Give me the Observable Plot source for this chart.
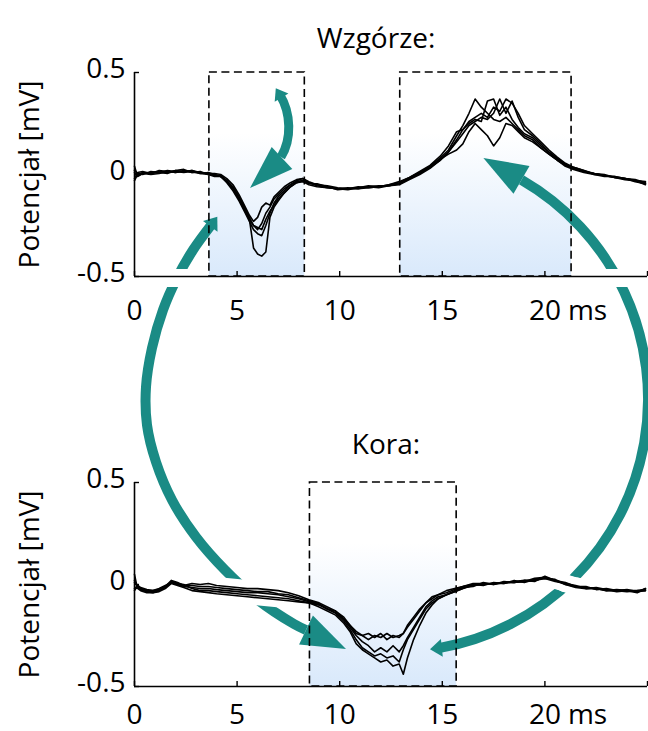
<!DOCTYPE html>
<html><head><meta charset="utf-8">
<script src="https://cdn.jsdelivr.net/npm/d3@7"></script>
<script src="https://cdn.jsdelivr.net/npm/@observablehq/plot@0.6"></script>
<style>
html,body{margin:0;padding:0;background:#fff;}
#chart{width:648px;}
#chart svg{display:block;overflow:hidden;}
</style></head><body><div id="chart"></div>
<script>
// ---------- data ----------
const titles = ["Wzgórze:", "Kora:"];
const yLabel = "Potencjał [mV]";
const xTicks = [0, 5, 10, 15, 20, 25];
const xTickLabels = ["0", "5", "10", "15", "20", ""];
const xUnit = "ms";
const yTicks = [-0.5, 0, 0.5];
const yTickLabels = ["-0.5", "0", "0.5"];

// Wzgórze (thalamus) time grid [ms] and 5 traces [mV]
const tTop = [0,0.15,0.4,0.8,1.2,1.6,2.0,2.4,2.8,3.2,3.6,3.9,4.2,4.5,4.8,5.1,5.4,5.6,5.8,6.0,6.2,6.4,6.6,6.8,7.0,7.3,7.6,7.9,8.2,8.5,8.9,9.4,9.9,10.4,10.9,11.4,11.9,12.4,12.9,13.4,13.9,14.4,14.9,15.3,15.7,16.0,16.3,16.6,16.9,17.2,17.5,17.8,18.1,18.4,18.7,19.0,19.4,19.8,20.2,20.6,21.0,21.4,21.9,22.4,22.9,23.4,23.9,24.4,24.9];
const topA = [0.04,-0.01,0.005,0.01,0.015,0.01,0.02,0.015,0.02,0.01,0.005,0.0,
 -0.01,-0.03,-0.07,-0.12,-0.18,-0.22,-0.36,-0.39,-0.40,-0.38,-0.21,-0.16,-0.13,-0.09,-0.06,-0.04,-0.03,-0.04,
 -0.05,-0.06,-0.07,-0.075,-0.065,-0.06,-0.065,-0.055,-0.045,-0.02,0.01,0.04,0.08,0.12,0.19,
 0.24,0.30,0.37,0.33,0.30,0.27,0.26,0.28,0.25,0.22,0.19,
 0.17,0.13,0.10,0.07,0.045,0.03,0.015,0.005,-0.005,-0.01,-0.02,-0.03,-0.045];
const topB = [-0.03,0.0,0.01,0.005,0.02,0.015,0.01,0.02,0.01,0.015,0.0,-0.005,
 -0.005,-0.03,-0.06,-0.11,-0.17,-0.21,-0.25,-0.27,-0.24,-0.19,-0.16,-0.12,-0.10,-0.07,-0.05,-0.03,-0.02,-0.04,
 -0.055,-0.065,-0.07,-0.07,-0.06,-0.065,-0.06,-0.05,-0.04,-0.015,0.015,0.045,0.09,0.14,0.21,
 0.22,0.25,0.27,0.26,0.36,0.37,0.29,0.33,0.27,0.23,0.20,
 0.18,0.14,0.11,0.075,0.05,0.035,0.02,0.0,-0.005,-0.015,-0.02,-0.025,-0.04];
const topC = [0.02,0.005,0.0,0.015,0.01,0.02,0.015,0.01,0.015,0.005,0.01,0.0,
 -0.01,-0.04,-0.08,-0.13,-0.19,-0.23,-0.27,-0.29,-0.30,-0.25,-0.19,-0.14,-0.11,-0.08,-0.05,-0.035,-0.03,-0.045,
 -0.045,-0.06,-0.075,-0.07,-0.07,-0.06,-0.055,-0.055,-0.045,-0.02,0.005,0.035,0.07,0.11,0.16,
 0.20,0.24,0.26,0.28,0.27,0.30,0.37,0.30,0.36,0.28,0.22,
 0.19,0.15,0.11,0.08,0.05,0.03,0.015,0.005,0.0,-0.015,-0.025,-0.03,-0.05];
const topD = [-0.02,0.01,0.015,0.005,0.01,0.005,0.02,0.025,0.01,0.01,0.005,0.005,
 0.0,-0.02,-0.05,-0.10,-0.16,-0.20,-0.23,-0.21,-0.16,-0.14,-0.15,-0.11,-0.09,-0.06,-0.04,-0.025,-0.02,-0.035,
 -0.05,-0.055,-0.065,-0.07,-0.065,-0.055,-0.06,-0.05,-0.035,-0.015,0.01,0.04,0.075,0.10,0.12,
 0.15,0.21,0.25,0.22,0.19,0.14,0.18,0.25,0.24,0.21,0.18,
 0.16,0.13,0.10,0.07,0.04,0.025,0.01,0.0,-0.01,-0.01,-0.02,-0.03,-0.035];
const topE = [0.01,-0.005,0.005,0.0,0.005,0.015,0.01,0.015,0.02,0.005,0.0,-0.01,
 -0.01,-0.035,-0.07,-0.12,-0.18,-0.22,-0.25,-0.26,-0.27,-0.22,-0.18,-0.15,-0.12,-0.09,-0.06,-0.04,-0.035,-0.05,
 -0.06,-0.065,-0.07,-0.065,-0.07,-0.065,-0.06,-0.055,-0.05,-0.025,0.0,0.03,0.07,0.11,0.17,
 0.22,0.26,0.28,0.30,0.28,0.33,0.31,0.37,0.35,0.30,0.24,
 0.20,0.16,0.12,0.085,0.055,0.035,0.02,0.005,-0.005,-0.015,-0.02,-0.035,-0.045];
const topBoxX1 = [3.65, 12.95];
const topBoxX2 = [8.3, 21.3];

// Kora (cortex) time grid [ms] and 5 traces [mV]
const tBot = [0,0.1,0.3,0.6,0.9,1.2,1.5,1.8,2.1,2.4,2.8,3.2,3.6,4.0,4.5,5.0,5.5,6.0,6.5,7.0,7.5,8.0,8.5,9.0,9.4,9.8,10.2,10.5,10.8,11.1,11.4,11.7,12.0,12.3,12.6,12.9,13.1,13.3,13.6,13.9,14.2,14.5,14.8,15.2,15.6,16.0,16.5,17.0,17.5,18.0,18.5,19.0,19.5,20.0,20.5,21.0,21.5,22.0,22.5,23.0,23.5,24.0,24.5,24.9];
const botA = [0.05,0.0,-0.02,-0.03,-0.03,-0.025,-0.01,0.015,0.005,-0.005,
 0.005,0.0,0.005,-0.005,-0.01,-0.015,-0.02,-0.02,-0.025,-0.03,-0.04,-0.055,-0.075,-0.09,
 -0.11,-0.13,-0.16,-0.20,-0.24,-0.25,-0.27,-0.25,-0.26,-0.24,-0.26,-0.25,-0.24,-0.21,-0.17,-0.13,-0.09,-0.07,-0.05,-0.04,-0.025,-0.01,
 0.0,0.005,0.0,0.01,0.01,0.015,0.02,0.035,0.02,0.0,-0.01,-0.015,-0.02,-0.03,-0.03,-0.025,-0.035,-0.02];
const botB = [-0.02,-0.01,-0.025,-0.035,-0.04,-0.03,-0.015,0.01,0.0,-0.01,
 -0.015,-0.02,-0.02,-0.025,-0.03,-0.035,-0.04,-0.04,-0.045,-0.05,-0.06,-0.07,-0.085,-0.10,
 -0.12,-0.14,-0.18,-0.22,-0.27,-0.31,-0.33,-0.35,-0.34,-0.36,-0.35,-0.38,-0.32,-0.27,-0.22,-0.17,-0.12,-0.09,-0.07,-0.05,-0.035,-0.02,
 -0.005,0.0,0.005,0.005,0.02,0.01,0.025,0.03,0.015,0.005,-0.005,-0.02,-0.015,-0.025,-0.035,-0.03,-0.03,-0.03];
const botC = [0.02,-0.005,-0.02,-0.03,-0.035,-0.03,-0.01,0.02,0.01,-0.005,
 -0.005,-0.01,-0.01,-0.015,-0.02,-0.025,-0.03,-0.035,-0.035,-0.045,-0.05,-0.065,-0.08,-0.095,
 -0.12,-0.13,-0.17,-0.21,-0.25,-0.28,-0.30,-0.33,-0.31,-0.33,-0.30,-0.33,-0.30,-0.26,-0.21,-0.16,-0.11,-0.08,-0.06,-0.05,-0.03,-0.015,
 -0.01,0.01,0.0,0.015,0.01,0.02,0.015,0.04,0.02,0.01,-0.01,-0.01,-0.025,-0.02,-0.03,-0.035,-0.03,-0.025];
const botD = [-0.03,-0.015,-0.03,-0.04,-0.04,-0.035,-0.02,0.005,-0.005,-0.015,
 -0.03,-0.035,-0.04,-0.045,-0.05,-0.055,-0.06,-0.065,-0.07,-0.075,-0.08,-0.085,-0.09,-0.11,
 -0.13,-0.15,-0.19,-0.23,-0.29,-0.32,-0.34,-0.36,-0.38,-0.37,-0.40,-0.39,-0.44,-0.36,-0.27,-0.20,-0.14,-0.10,-0.07,-0.05,-0.035,-0.02,
 0.0,-0.005,0.01,0.005,0.015,0.02,0.02,0.03,0.025,0.0,-0.015,-0.02,-0.02,-0.03,-0.025,-0.03,-0.035,-0.03];
const botE = [0.01,0.0,-0.015,-0.025,-0.03,-0.02,-0.005,0.01,0.005,0.0,
 -0.02,-0.03,-0.03,-0.035,-0.04,-0.045,-0.05,-0.055,-0.06,-0.065,-0.07,-0.08,-0.09,-0.10,
 -0.12,-0.14,-0.17,-0.20,-0.23,-0.25,-0.24,-0.26,-0.24,-0.27,-0.25,-0.26,-0.24,-0.20,-0.16,-0.12,-0.09,-0.06,-0.05,-0.03,-0.02,-0.01,
 0.005,0.005,0.005,0.01,0.01,0.015,0.03,0.035,0.02,0.005,-0.01,-0.015,-0.02,-0.025,-0.03,-0.03,-0.04,-0.02];
const botBoxX1 = [8.55];
const botBoxX2 = [15.7];

// ---------- decoration (teal arrows, page pixel geometry) ----------
const TEAL = "#1a8b85";
const FONT = "'Open Sans', sans-serif";
const FS = 28;
const leftArcPts = [[212,224],[193,250],[177,278],[163,310],[152,348],[146,387],[147,425],[156,462],[172,500],[196,537],[225,570],[258,600],[294,624],[306,630]];

const NS = "http://www.w3.org/2000/svg";
function el(name, attrs) {
  const e = document.createElementNS(NS, name);
  for (const k in attrs) e.setAttribute(k, attrs[k]);
  return e;
}
function headPoly(base, tip, half) {
  const dx = tip[0]-base[0], dy = tip[1]-base[1], L = Math.hypot(dx, dy);
  const nx = -dy/L, ny = dx/L;
  return [[base[0]+nx*half, base[1]+ny*half], tip, [base[0]-nx*half, base[1]-ny*half]];
}
function flarePoly(tail, next, len, half) {
  const dx = tail[0]-next[0], dy = tail[1]-next[1], L = Math.hypot(dx, dy);
  const ux = dx/L, uy = dy/L, nx = -uy, ny = ux;
  const b = [tail[0]-ux*3, tail[1]-uy*3];
  return [[b[0]+nx*half, b[1]+ny*half], [tail[0]+ux*len, tail[1]+uy*len], [b[0]-nx*half, b[1]-ny*half]];
}
const poly = pts => "M" + pts.map(p => p[0].toFixed(1)+","+p[1].toFixed(1)).join("L") + "Z";

function arrowLayer(offsetY, maskId, lines) {
  return (index, scales, values, dims) => {
    const {x, y} = scales;
    const root = el("g", {});
    const defs = el("defs", {});
    const mask = el("mask", {id: maskId, maskUnits: "userSpaceOnUse", x: 0, y: 0, width: dims.width, height: dims.height});
    mask.appendChild(el("rect", {x: 0, y: 0, width: dims.width, height: dims.height, fill: "white"}));
    mask.appendChild(el("rect", {x: 0, y: 269 - offsetY, width: dims.width, height: 18, fill: "black"}));
    const ln = d3.line().x(d => x(d[0])).y(d => y(d[1]));
    for (const l of lines) mask.appendChild(el("path", {d: ln(l), fill: "none", stroke: "black", "stroke-width": 16, "stroke-linejoin": "round"}));
    defs.appendChild(mask);
    root.appendChild(defs);
    const masked = el("g", {mask: `url(#${maskId})`});
    const g = el("g", {transform: `translate(0,${-offsetY})`});
    // left big arc (top-left -> Kora trough)
    g.appendChild(el("path", {d: d3.line().curve(d3.curveCatmullRom)(leftArcPts), fill: "none", stroke: TEAL, "stroke-width": 10}));
    g.appendChild(el("path", {d: poly(headPoly([306,630], [346,649], 16)), fill: TEAL}));
    g.appendChild(el("path", {d: poly(flarePoly([212,224], [193,250], 9, 9)), fill: TEAL}));
    // right big arc (Kora trough -> Wzgórze peak)
    g.appendChild(el("path", {d: "M438.9,648.2 A253,253 0 0 0 521.5,179.9", fill: "none", stroke: TEAL, "stroke-width": 10}));
    g.appendChild(el("path", {d: poly(headPoly([521.5,179.9], [483.4,157.9], 16)), fill: TEAL}));
    g.appendChild(el("path", {d: poly(flarePoly([438.9,648.2], [450,647], 9, 9)), fill: TEAL}));
    // small arrow in the thalamus panel
    g.appendChild(el("path", {d: "M280,95 C291,113 292,139 281,157", fill: "none", stroke: TEAL, "stroke-width": 9}));
    g.appendChild(el("path", {d: poly(headPoly([282,158], [250,188], 15)), fill: TEAL}));
    g.appendChild(el("path", {d: poly(flarePoly([280,95], [291,113], 8, 8)), fill: TEAL}));
    masked.appendChild(g);
    root.appendChild(masked);
    return root;
  };
}
function gradDefs(id) {
  return () => {
    const defs = el("defs", {});
    const lg = el("linearGradient", {id, x1: 0, y1: 0, x2: 0, y2: 1});
    lg.appendChild(el("stop", {offset: "0", "stop-color": "#ffffff"}));
    lg.appendChild(el("stop", {offset: "0.3", "stop-color": "#ffffff"}));
    lg.appendChild(el("stop", {offset: "1", "stop-color": "#d9e9fb"}));
    defs.appendChild(lg);
    return defs;
  };
}

function panel(o) {
  const series = o.series;
  const rows = series.flatMap((vals, k) => vals.map((v, i) => ({t: o.t[i], v, id: k})));
  const lines = series.map(vals => vals.map((v, i) => [o.t[i], v]));
  const boxes = o.x1.map((a, i) => ({x1: a, x2: o.x2[i]}));
  return Plot.plot({
    width: 648, height: o.height,
    marginTop: o.marginTop, marginBottom: o.marginBottom, marginLeft: 134, marginRight: 1,
    x: {domain: [0, 25], label: null},
    y: {domain: [-0.5, 0.5], label: null},
    style: `overflow:hidden;font-family:${FONT};background:white;color:black;`,
    marks: [
      gradDefs(o.gradId),
      Plot.rect(boxes, {x1: "x1", x2: "x2", y1: -0.5, y2: 0.5, fill: `url(#${o.gradId})`}),
      arrowLayer(o.offsetY, o.maskId, lines),
      Plot.rect(boxes, {x1: "x1", x2: "x2", y1: -0.5, y2: 0.5, fill: "none", stroke: "black", strokeWidth: 1.6, strokeDasharray: "8,4.5"}),
      Plot.ruleY([-0.5], {stroke: "black", strokeWidth: 1.6}),
      Plot.ruleX([0], {stroke: "black", strokeWidth: 1.6}),
      Plot.axisX({ticks: xTicks, tickSize: -5, tickFormat: () => "", strokeWidth: 1.4, label: null}),
      Plot.axisX({ticks: xTicks, tickSize: 0, tickPadding: o.xPad, tickFormat: d => xTickLabels[xTicks.indexOf(d)], fontSize: FS, fontFamily: FONT, label: null}),
      Plot.text([xUnit], {text: d => d, x: 20, frameAnchor: "bottom", textAnchor: "start", lineAnchor: "top", dx: 23, dy: o.xPad, fontSize: FS, fontFamily: FONT}),
      Plot.axisY({ticks: yTicks, tickSize: -5, tickFormat: () => "", strokeWidth: 1.4, label: null}),
      Plot.axisY({ticks: yTicks, tickSize: 0, tickPadding: 9, dy: -3, tickFormat: d => yTickLabels[yTicks.indexOf(d)], fontSize: FS, fontFamily: FONT, label: null}),
      Plot.line(rows, {x: "t", y: "v", z: "id", stroke: "black", strokeWidth: 1.6, strokeLinejoin: "round"}),
      Plot.text([o.title], {text: d => d, frameAnchor: "top", dx: o.titleDx, dy: o.titleDy, fontSize: FS, fontFamily: FONT}),
      Plot.text([yLabel], {text: d => d, frameAnchor: "left", textAnchor: "middle", rotate: -90, dx: -104, fontSize: FS, fontFamily: FONT})
    ]
  });
}

const chart = document.getElementById("chart");
chart.appendChild(panel({
  title: titles[0], titleDx: -15, titleDy: -44,
  t: tTop, series: [topA, topB, topC, topD, topE], x1: topBoxX1, x2: topBoxX2,
  height: 400, marginTop: 72, marginBottom: 124, offsetY: 0, gradId: "gradTop", maskId: "maskTop", xPad: 24
}));
chart.appendChild(panel({
  title: titles[1], titleDx: -5, titleDy: -48,
  t: tBot, series: [botA, botB, botC, botD, botE], x1: botBoxX1, x2: botBoxX2,
  height: 331, marginTop: 82, marginBottom: 45, offsetY: 400, gradId: "gradBot", maskId: "maskBot", xPad: 18
}));
</script>
</body></html>
